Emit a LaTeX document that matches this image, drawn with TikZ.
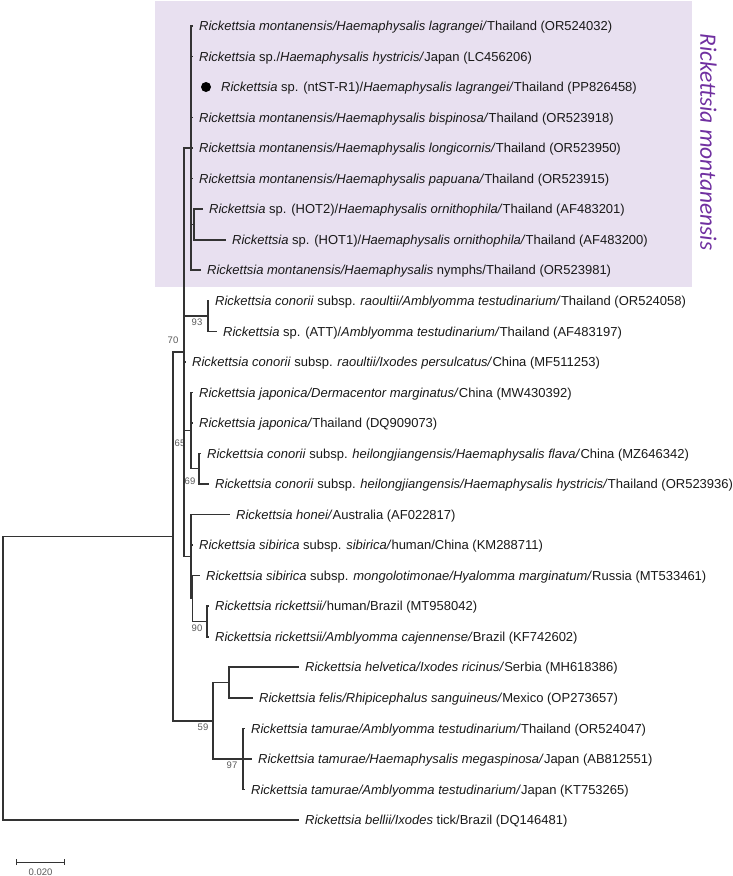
\documentclass[tikz,border=0pt]{standalone}
\usepackage{fontspec}
\setmainfont{Liberation Sans}
\newfontfamily\cladefont{Carlito}
\usepackage{tikz}
\usetikzlibrary{arrows.meta}
\definecolor{cladebg}{RGB}{232,224,240}
\definecolor{cladetext}{RGB}{112,48,160}

\begin{document}
\begin{tikzpicture}[x=1pt, y=-1pt,
    branch/.style={draw=black!80, line width=1.1pt},
    tip/.style={anchor=west, inner xsep=6pt, inner ysep=0pt, text height=9.3pt, text depth=0pt, text=black!90, font=\fontsize{13}{15}\selectfont},
    boot/.style={inner sep=0pt, text=black!65, font=\fontsize{9.5}{11}\selectfont},
    dot/.style={circle, fill=black, inner sep=0pt, minimum size=10pt}]
    \useasboundingbox (0, 0) rectangle (733, 876);
    \fill[cladebg] (155, 1) rectangle (691.5, 287);
    \node[rotate=-90, inner sep=0pt, text=cladetext, font=\cladefont\itshape\fontsize{23.5}{28}\selectfont] (clade) at (708.5, 142) {Rickettsia montanensis};

    \begin{scope}
        \coordinate (root) at (3, 678.5);
        \coordinate (n70) at (173, 536.5);
        \coordinate (ingr) at (184, 352);
        \coordinate (mont) at (191, 148);
        \coordinate (hot) at (194, 224.5);
        \coordinate (n93) at (208, 316);
        \coordinate (n65) at (191, 430.5);
        \coordinate (n69) at (199, 468.5);
        \coordinate (sib) at (191, 556.5);
        \coordinate (sib2) at (192.5, 598.5);
        \coordinate (rick) at (207, 621.5);
        \coordinate (n59) at (213, 721);
        \coordinate (helf) at (229, 682.5);
        \coordinate (tam) at (243, 759);

        \node[dot] (d03) at (206, 87) {};
        \node[tip] (t01) at (193, 26) {\textit{Rickettsia montanensis/Haemaphysalis lagrangei/}Thailand (OR524032)};
        \node[tip] (t02) at (193, 56.5) {\textit{Rickettsia} sp./\textit{Haemaphysalis hystricis/}Japan (LC456206)};
        \node[tip] (t03) at (215, 87) {\textit{Rickettsia} sp. (ntST-R1)/\textit{Haemaphysalis lagrangei/}Thailand (PP826458)};
        \node[tip] (t04) at (193, 117.5) {\textit{Rickettsia montanensis/Haemaphysalis bispinosa/}Thailand (OR523918)};
        \node[tip] (t05) at (193, 148) {\textit{Rickettsia montanensis/Haemaphysalis longicornis/}Thailand (OR523950)};
        \node[tip] (t06) at (193, 178.5) {\textit{Rickettsia montanensis/Haemaphysalis papuana/}Thailand (OR523915)};
        \node[tip] (t07) at (203, 209) {\textit{Rickettsia} sp. (HOT2)/\textit{Haemaphysalis ornithophila/}Thailand (AF483201)};
        \node[tip] (t08) at (226, 240) {\textit{Rickettsia} sp. (HOT1)/\textit{Haemaphysalis ornithophila/}Thailand (AF483200)};
        \node[tip] (t09) at (201, 270) {\textit{Rickettsia montanensis/Haemaphysalis} nymphs/Thailand (OR523981)};
        \node[tip] (t10) at (209, 301) {\textit{Rickettsia conorii} subsp. \textit{raoultii/Amblyomma testudinarium/}Thailand (OR524058)};
        \node[tip] (t11) at (217, 331.5) {\textit{Rickettsia} sp. (ATT)/\textit{Amblyomma testudinarium/}Thailand (AF483197)};
        \node[tip] (t12) at (186, 362) {\textit{Rickettsia conorii} subsp. \textit{raoultii/Ixodes persulcatus/}China (MF511253)};
        \node[tip] (t13) at (193, 392.5) {\textit{Rickettsia japonica/Dermacentor marginatus/}China (MW430392)};
        \node[tip] (t14) at (193, 423) {\textit{Rickettsia japonica/}Thailand (DQ909073)};
        \node[tip] (t15) at (201, 453.5) {\textit{Rickettsia conorii} subsp. \textit{heilongjiangensis/Haemaphysalis flava/}China (MZ646342)};
        \node[tip] (t16) at (209, 484) {\textit{Rickettsia conorii} subsp. \textit{heilongjiangensis/Haemaphysalis hystricis/}Thailand (OR523936)};
        \node[tip] (t17) at (230, 514.5) {\textit{Rickettsia honei/}Australia (AF022817)};
        \node[tip] (t18) at (193, 545) {\textit{Rickettsia sibirica} subsp. \textit{sibirica/}human/China (KM288711)};
        \node[tip] (t19) at (200, 575.5) {\textit{Rickettsia sibirica} subsp. \textit{mongolotimonae/Hyalomma marginatum/}Russia (MT533461)};
        \node[tip] (t20) at (209, 606) {\textit{Rickettsia rickettsii/}human/Brazil (MT958042)};
        \node[tip] (t21) at (209, 637) {\textit{Rickettsia rickettsii/Amblyomma cajennense/}Brazil (KF742602)};
        \node[tip] (t22) at (299, 667) {\textit{Rickettsia helvetica/Ixodes ricinus/}Serbia (MH618386)};
        \node[tip] (t23) at (253, 698) {\textit{Rickettsia felis/Rhipicephalus sanguineus/}Mexico (OP273657)};
        \node[tip] (t24) at (245, 728.5) {\textit{Rickettsia tamurae/Amblyomma testudinarium/}Thailand (OR524047)};
        \node[tip] (t25) at (252, 759) {\textit{Rickettsia tamurae/Haemaphysalis megaspinosa/}Japan (AB812551)};
        \node[tip] (t26) at (245, 789.5) {\textit{Rickettsia tamurae/Amblyomma testudinarium/}Japan (KT753265)};
        \node[tip] (t27) at (299, 820) {\textit{Rickettsia bellii/Ixodes} tick/Brazil (DQ146481)};

        \node[boot] (b70) at (173, 340) {70};
        \node[boot] (b93) at (197, 322) {93};
        \node[boot] (b65) at (180, 443) {65};
        \node[boot] (b69) at (190, 481) {69};
        \node[boot] (b90) at (197, 628) {90};
        \node[boot] (b59) at (203, 727) {59};
        \node[boot] (b97) at (232, 765) {97};

        \draw[branch] (root) |- (n70) (root) |- (t27.west);
        \draw[branch] (n70) |- (ingr) (n70) |- (n59);
        \draw[branch] (ingr) |- (mont) (ingr) |- (n93) (ingr) |- (t12.west)
            (ingr) |- (n65) (ingr) |- (sib);
        \draw[branch] (mont) |- (t01.west) (mont) |- (t02.west) (mont) |- (t04.west)
            (mont) |- (t05.west) (mont) |- (t06.west) (mont) |- (hot) (mont) |- (t09.west);
        \draw[branch] (hot) |- (t07.west) (hot) |- (t08.west);
        \draw[branch] (n93) |- (t10.west) (n93) |- (t11.west);
        \draw[branch] (n65) |- (t13.west) (n65) |- (t14.west) (n65) |- (n69);
        \draw[branch] (n69) |- (t15.west) (n69) |- (t16.west);
        \draw[branch] (sib) |- (t17.west) (sib) |- (t18.west) (sib) |- (sib2);
        \draw[branch] (sib2) |- (t19.west) (sib2) |- (rick);
        \draw[branch] (rick) |- (t20.west) (rick) |- (t21.west);
        \draw[branch] (n59) |- (helf) (n59) |- (tam);
        \draw[branch] (helf) |- (t22.west) (helf) |- (t23.west);
        \draw[branch] (tam) |- (t24.west) (tam) |- (t25.west) (tam) |- (t26.west);
    \end{scope}

    \coordinate (sbl) at (16, 862);
    \coordinate (sbr) at (65, 862);
    \draw[branch, line width=1pt, {Bar[width=6pt]}-{Bar[width=6pt]}] (sbl) -- (sbr);
    \node[boot] (sbt) at (40.5, 872) {0.020};
\end{tikzpicture}
\end{document}
